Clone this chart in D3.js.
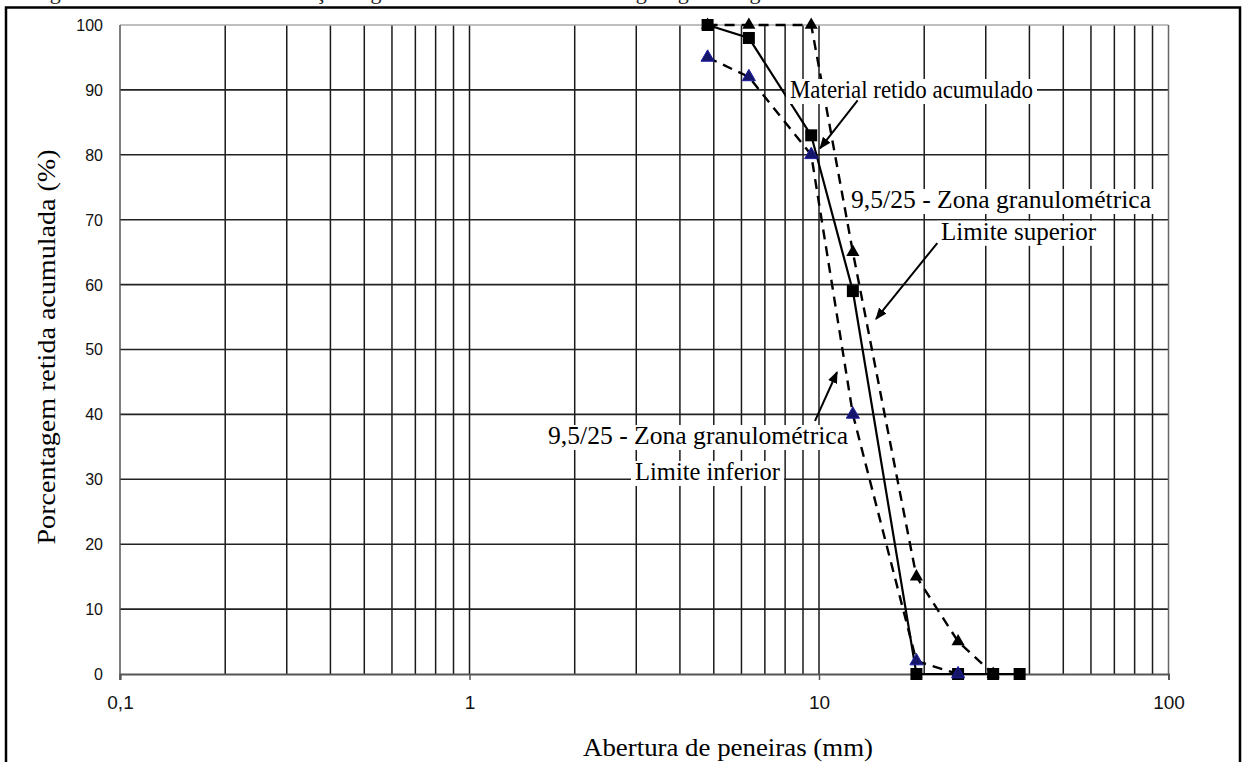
<!DOCTYPE html>
<html>
<head>
<meta charset="utf-8">
<script src="https://cdn.jsdelivr.net/npm/d3@7"></script>
<style>
  html, body { margin: 0; padding: 0; background: #fff; }
  svg { display: block; }
</style>
</head>
<body>
<svg id="chart" width="1243" height="762"></svg>
<script>
// Sieve openings (mm) and cumulative retained percentages
const sieveMaterial = [4.8, 6.3, 9.5, 12.5, 19, 25, 31.5, 37.5];
const retainedMaterial = [100, 98, 83, 59, 0, 0, 0, 0];

const sieveLower = [4.8, 6.3, 9.5, 12.5, 19, 25];
const retainedLower = [95, 92, 80, 40, 2, 0];

const sieveUpper = [4.8, 6.3, 9.5, 12.5, 19, 25, 31.5];
const retainedUpper = [100, 100, 100, 65, 15, 5, 0];

const xTickValues = [0.1, 1, 10, 100];
const xTickLabels = ["0,1", "1", "10", "100"];
const yTickValues = [0, 10, 20, 30, 40, 50, 60, 70, 80, 90, 100];

const svg = d3.select("#chart");
const W = 1243, H = 762;

const x = d3.scaleLog().domain([0.1, 100]).range([120, 1168.5]);
const y = d3.scaleLinear().domain([0, 100]).range([674, 25]);

const serif = "'Liberation Serif', 'Times New Roman', serif";
const sans = "'Liberation Sans', Arial, sans-serif";

// caption above the frame (its upper part lies beyond the page top)
svg.append("text")
  .attr("x", 22).attr("y", -1.5)
  .attr("font-family", serif).attr("font-size", 22)
  .attr("textLength", 812).attr("lengthAdjust", "spacing")
  .attr("fill", "#222")
  .text("Figura 3.8 – Distribuição granulométrica do agregado graúdo");

// outer frame
svg.append("path")
  .attr("d", `M6,${H} V7.5 H1240 V${H}`)
  .attr("fill", "none").attr("stroke", "#000").attr("stroke-width", 2.5);

// log minor grid (2..9 of each decade, plus the decade lines)
const minor = [];
[0.1, 1, 10].forEach(d => { for (let k = 1; k <= 9; k++) minor.push(d * k); });
const gridV = minor.filter(v => v > 0.1 + 1e-9);
svg.append("g").selectAll("line").data(gridV).join("line")
  .attr("x1", d => x(d)).attr("x2", d => x(d))
  .attr("y1", y(100)).attr("y2", y(0))
  .attr("stroke", "#1a1a1a").attr("stroke-width", 1.5);

// horizontal grid
svg.append("g").selectAll("line").data(yTickValues.filter(v => v > 0 && v < 100)).join("line")
  .attr("x1", x(0.1)).attr("x2", x(100))
  .attr("y1", d => y(d)).attr("y2", d => y(d))
  .attr("stroke", "#222").attr("stroke-width", 1.6);

// top line and right border of the plot area
svg.append("line")
  .attr("x1", x(0.1)).attr("x2", x(100)).attr("y1", y(100)).attr("y2", y(100))
  .attr("stroke", "#aaa").attr("stroke-width", 1.5);
svg.append("line")
  .attr("x1", x(100)).attr("x2", x(100)).attr("y1", y(100)).attr("y2", y(0))
  .attr("stroke", "#666").attr("stroke-width", 1.5);

// axes
const xAxis = d3.axisBottom(x).tickValues(xTickValues)
  .tickFormat((d, i) => xTickLabels[i]).tickSize(6).tickPadding(16);
const gx = svg.append("g").attr("transform", `translate(0,${y(0)})`).call(xAxis);
gx.select(".domain").attr("stroke", "#555").attr("stroke-width", 2);
gx.selectAll(".tick line").attr("stroke", "#555").attr("stroke-width", 1.5);
gx.selectAll(".tick text").attr("font-family", sans).attr("font-size", 19).attr("fill", "#111");

const yAxis = d3.axisLeft(y).tickValues(yTickValues).tickSize(0).tickPadding(17);
const gy = svg.append("g").attr("transform", `translate(${x(0.1)},0)`).call(yAxis);
gy.select(".domain").attr("stroke", "#555").attr("stroke-width", 1.5)
  .attr("d", `M0,${y(100)}V${y(0) + 6}`);
gy.selectAll(".tick text").attr("font-family", sans).attr("font-size", 16).attr("fill", "#111")
  .attr("dy", "0.34em");

// axis titles
svg.append("text")
  .attr("x", 728).attr("y", 756)
  .attr("text-anchor", "middle")
  .attr("font-family", serif).attr("font-size", 25)
  .attr("textLength", 290).attr("lengthAdjust", "spacingAndGlyphs")
  .text("Abertura de peneiras (mm)");

svg.append("text")
  .attr("transform", "translate(55,347) rotate(-90)")
  .attr("text-anchor", "middle")
  .attr("font-family", serif).attr("font-size", 25)
  .attr("textLength", 395).attr("lengthAdjust", "spacingAndGlyphs")
  .text("Porcentagem retida acumulada (%)");

// series
const line = d3.line().x(d => x(d[0])).y(d => y(d[1]));
const upper = sieveUpper.map((s, i) => [s, retainedUpper[i]]);
const material = sieveMaterial.map((s, i) => [s, retainedMaterial[i]]);
const lower = sieveLower.map((s, i) => [s, retainedLower[i]]);

svg.append("path").datum(upper).attr("d", line)
  .attr("fill", "none").attr("stroke", "#000").attr("stroke-width", 2.4)
  .attr("stroke-dasharray", "10,7");
svg.append("path").datum(lower).attr("d", line)
  .attr("fill", "none").attr("stroke", "#000").attr("stroke-width", 2.4)
  .attr("stroke-dasharray", "10,7");
svg.append("path").datum(material).attr("d", line)
  .attr("fill", "none").attr("stroke", "#000").attr("stroke-width", 2.2);

const tri = d3.symbol().type(d3.symbolTriangle).size(75);
svg.append("g").selectAll("path").data(upper).join("path")
  .attr("transform", d => `translate(${x(d[0])},${y(d[1])})`)
  .attr("d", tri).attr("fill", "#000");

svg.append("g").selectAll("rect").data(material).join("rect")
  .attr("x", d => x(d[0]) - 6).attr("y", d => y(d[1]) - 6)
  .attr("width", 12).attr("height", 12).attr("fill", "#000");

svg.append("g").selectAll("path").data(lower).join("path")
  .attr("transform", d => `translate(${x(d[0])},${y(d[1])})`)
  .attr("d", tri).attr("fill", "#15156a").attr("stroke", "#1e1ea0").attr("stroke-width", 1);

// annotations: text anchored in data space, with white backing
const notes = [
  { t: "Material retido acumulado", xv: 8.26, yv: 88.75, w: 243 },
  { t: "9,5/25 - Zona granulométrica", xv: 12.35, yv: 71.8, w: 300 },
  { t: "Limite superior", xv: 22.34, yv: 66.9, w: 155 },
  { t: "9,5/25 - Zona granulométrica", xv: 1.678, yv: 35.44, w: 300 },
  { t: "Limite inferior", xv: 2.976, yv: 29.9, w: 145 }
];
const gNotes = svg.append("g");
notes.forEach(n => {
  const bx = x(n.xv), by = y(n.yv);
  gNotes.append("rect")
    .attr("x", bx - 4).attr("y", by - 19)
    .attr("width", n.w + 8).attr("height", 25)
    .attr("fill", "#fff");
  gNotes.append("text")
    .attr("x", bx).attr("y", by)
    .attr("font-family", serif).attr("font-size", 25)
    .attr("textLength", n.w).attr("lengthAdjust", "spacingAndGlyphs")
    .attr("fill", "#000")
    .text(n.t);
});

// arrows
svg.append("defs").append("marker")
  .attr("id", "arrowhead")
  .attr("viewBox", "0 0 10 10").attr("refX", 9).attr("refY", 5)
  .attr("markerWidth", 6).attr("markerHeight", 6)
  .attr("markerUnits", "strokeWidth")
  .attr("orient", "auto")
  .append("path").attr("d", "M0,1 L10,5 L0,9 Z").attr("fill", "#000");

const arrows = [
  { from: [12.9, 88.4], to: [10.07, 81.0] },
  { from: [21.8, 66.4], to: [14.56, 54.7] },
  { from: [9.74, 39.0], to: [11.26, 46.5] }
];
svg.append("g").selectAll("line").data(arrows).join("line")
  .attr("x1", d => x(d.from[0])).attr("y1", d => y(d.from[1]))
  .attr("x2", d => x(d.to[0])).attr("y2", d => y(d.to[1]))
  .attr("stroke", "#000").attr("stroke-width", 2)
  .attr("marker-end", "url(#arrowhead)");
</script>
</body>
</html>
